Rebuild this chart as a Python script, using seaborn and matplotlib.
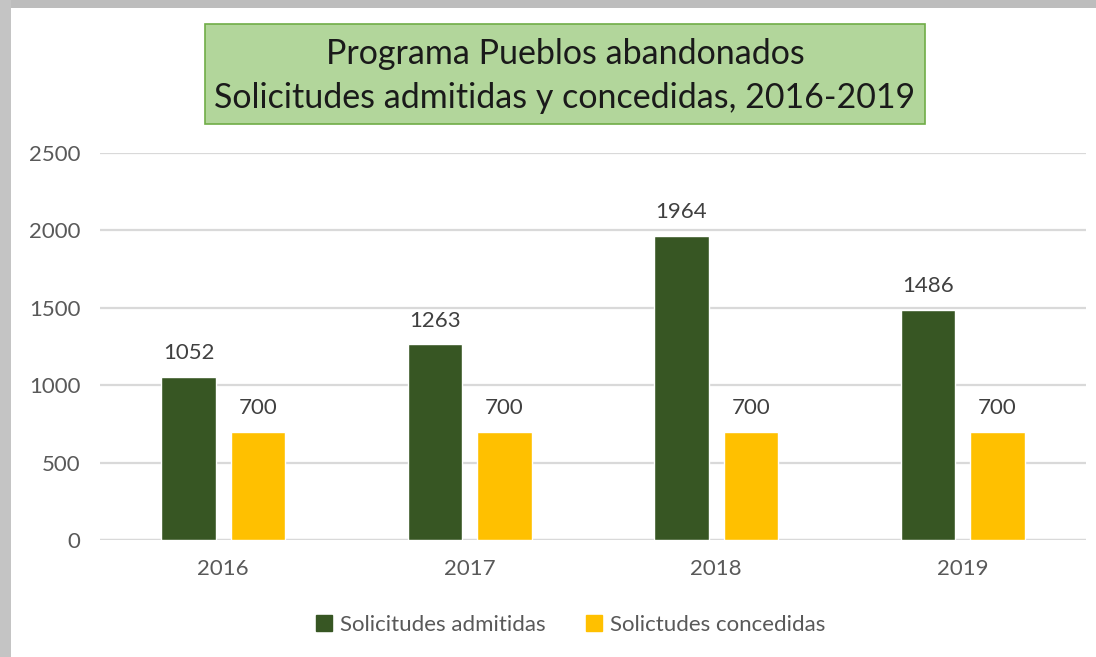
import matplotlib
matplotlib.use("Agg")
import matplotlib.pyplot as plt
import seaborn as sns
import pandas as pd
from matplotlib.patches import Rectangle
from matplotlib.lines import Line2D

years = ["2016", "2017", "2018", "2019"]
admitidas = [1052, 1263, 1964, 1486]
concedidas = [700, 700, 700, 700]
series_names = ["Solicitudes admitidas", "Solictudes concedidas"]
colors = ["#375623", "#FFC000"]
title_lines = ["Programa Pueblos abandonados", "Solicitudes admitidas y concedidas, 2016-2019"]
yticks = [0, 500, 1000, 1500, 2000, 2500]

df = pd.DataFrame({
    "year": years * 2,
    "value": admitidas + concedidas,
    "serie": [series_names[0]] * 4 + [series_names[1]] * 4,
})

sns.set_style("white")
plt.rcParams["font.family"] = ["Lato", "DejaVu Sans"]

fig = plt.figure(figsize=(10.96, 6.57), dpi=100)
fig.patch.set_facecolor("white")
# shadow strips (top and left)
fig.patches.append(Rectangle((0, 1 - 8 / 657), 1, 8 / 657, transform=fig.transFigure,
                             facecolor="#bdbdbd", edgecolor="none", zorder=0))
fig.patches.append(Rectangle((0, 0), 11 / 1096, 1, transform=fig.transFigure,
                             facecolor="#c4c4c4", edgecolor="none", zorder=0))

ax = fig.add_axes([100 / 1096, 1 - 540 / 657, 986 / 1096, 387 / 657])
sns.barplot(data=df, x="year", y="value", hue="serie", palette=colors,
            width=0.564, gap=0.21, ax=ax, legend=False, saturation=1)

ax.set_xlim(-0.5, 3.5)
ax.set_ylim(0, 2500)
ax.set_yticks(yticks)
ax.set_yticklabels([str(t) for t in yticks])
ax.yaxis.grid(True, color="#d9d9d9", linewidth=1.6)
ax.set_axisbelow(True)
for s in ax.spines.values():
    s.set_visible(False)
ax.axhline(0, color="#d9d9d9", linewidth=1.6, zorder=0.5)
ax.set_xlabel("")
ax.set_ylabel("")
ax.tick_params(axis="both", length=0, labelsize=16, labelcolor="#595959")
ax.tick_params(axis="x", pad=14)
ax.tick_params(axis="y", pad=14)

for cont in ax.containers:
    ax.bar_label(cont, fmt="%d", padding=10, fontsize=16, color="#404040")

# title box
fig.patches.append(Rectangle((205 / 1096, 1 - 124 / 657), 720 / 1096, 100 / 657,
                             transform=fig.transFigure, facecolor="#b2d69b",
                             edgecolor="#70ad47", linewidth=1.2, zorder=1))
fig.text(565 / 1096, 1 - 54 / 657, title_lines[0], ha="center", va="center",
         fontsize=24.5, color="#1a1a1a", zorder=2)
fig.text(565 / 1096, 1 - 98 / 657, title_lines[1], ha="center", va="center",
         fontsize=24.5, color="#1a1a1a", zorder=2)

handles = [Line2D([], [], marker="s", linestyle="", markersize=11, color=c) for c in colors]
fig.legend(handles, series_names, loc="center", bbox_to_anchor=(569 / 1096, 1 - 625 / 657),
           ncol=2, frameon=False, fontsize=16, labelcolor="#595959", handletextpad=0.2,
           columnspacing=1.7, handlelength=1.0)

fig.savefig("out.png", dpi=100)
